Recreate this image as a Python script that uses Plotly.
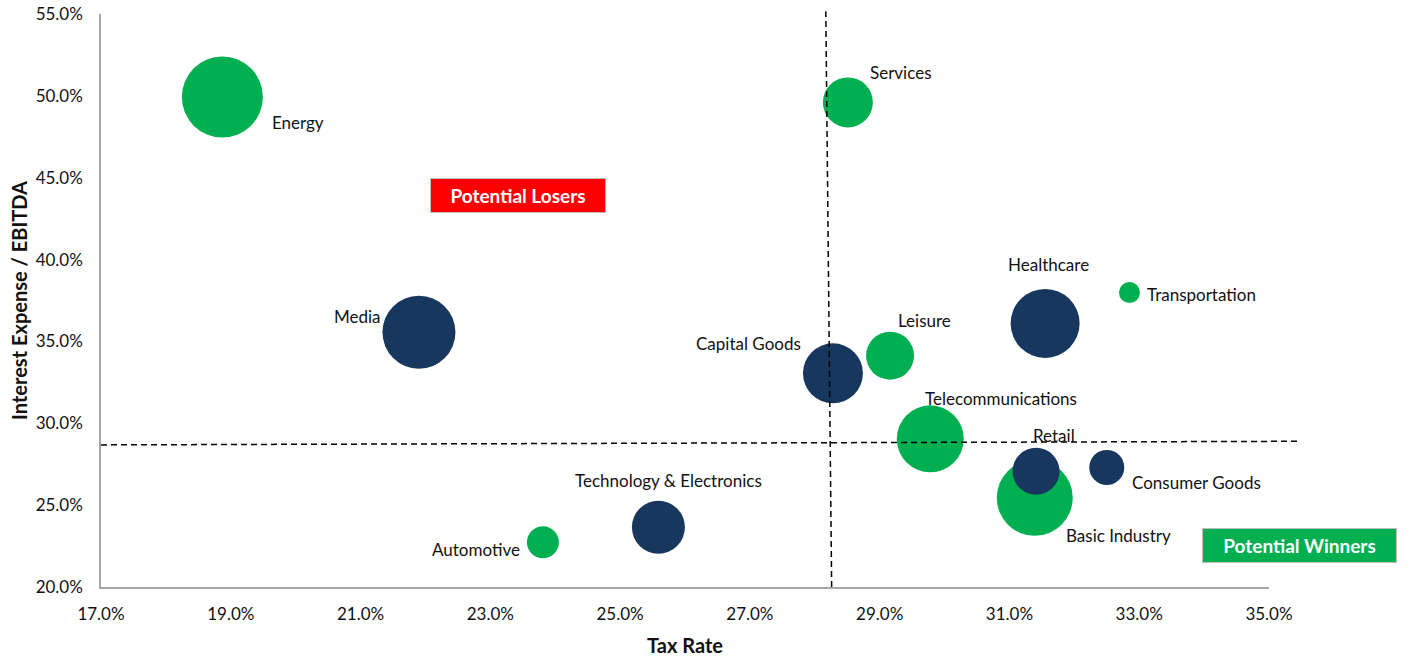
import plotly.graph_objects as go

# Sector data: tax rate (%), interest expense / EBITDA (%), bubble diameter
sectors = ["Energy", "Services", "Media", "Capital Goods", "Leisure", "Healthcare",
           "Transportation", "Telecommunications", "Retail", "Consumer Goods",
           "Basic Industry", "Technology & Electronics", "Automotive"]
tax_rate = [18.87, 28.51, 21.90, 28.28, 29.16, 31.55, 32.85, 29.78, 31.41, 32.50, 31.39, 25.59, 23.81]
interest_ebitda = [49.93, 49.60, 35.56, 33.05, 34.13, 36.10, 37.99, 29.05, 27.07, 27.30, 25.45, 23.65, 22.73]
bubble_size = [81, 50, 73, 60, 48, 69, 21, 67, 47, 35, 76, 53, 32]
group = ["green", "green", "navy", "navy", "green", "navy", "green", "green",
         "navy", "navy", "green", "navy", "green"]

# Reference lines (averages)
avg_tax = [28.26, 28.17]        # bottom, top
avg_interest = [28.68, 28.90]   # left, right

x_ticks = [17, 19, 21, 23, 25, 27, 29, 31, 33, 35]
y_ticks = [20, 25, 30, 35, 40, 45, 50, 55]
x_tick_text = [f"{v:.1f}%" for v in x_ticks]
y_tick_text = [f"{v:.1f}%" for v in y_ticks]

COLORS = {"green": "#00B050", "navy": "#17375E"}
FONT = "Lato"
TEXT_COLOR = "#111111"

# Label placement: (xanchor, xshift, yshift) in pixels from bubble centre
label_pos = {
    "Energy": ("left", 48, -25),
    "Services": ("left", 20, 30),
    "Media": ("right", -36, 16),
    "Capital Goods": ("right", -30, 30),
    "Leisure": ("left", 6, 35),
    "Healthcare": ("center", 3, 59),
    "Transportation": ("left", 16, -2),
    "Telecommunications": ("left", -7, 40),
    "Retail": ("center", 18, 36),
    "Consumer Goods": ("left", 23, -15),
    "Basic Industry": ("left", 29, -38),
    "Technology & Electronics": ("center", 10, 47),
    "Automotive": ("right", -21, -7),
}

fig = go.Figure()
for g in ["green", "navy"]:
    idx = [i for i, v in enumerate(group) if v == g]
    fig.add_trace(go.Scatter(
        x=[tax_rate[i] for i in idx],
        y=[interest_ebitda[i] for i in idx],
        mode="markers",
        marker=dict(size=[bubble_size[i] for i in idx], sizemode="diameter", sizeref=1,
                    color=COLORS[g], opacity=1, line=dict(width=0)),
        text=[sectors[i] for i in idx],
        hoverinfo="text",
        showlegend=False,
        cliponaxis=False,
    ))

annotations = []
for i, name in enumerate(sectors):
    anchor, dx, dy = label_pos[name]
    annotations.append(dict(
        x=tax_rate[i], y=interest_ebitda[i], xref="x", yref="y",
        text=name, showarrow=False, xanchor=anchor, yanchor="middle",
        xshift=dx, yshift=dy,
        font=dict(family=FONT, size=17, color=TEXT_COLOR),
    ))

# Quadrant labels
annotations.append(dict(
    x=0.357, y=0.684, xref="paper", yref="paper", text="<b>Potential Losers</b>",
    xanchor="center", yanchor="middle",
    showarrow=False, bgcolor="#FF0000", bordercolor="#BFBFBF", borderwidth=1,
    borderpad=0, width=174, height=33, align="center", valign="middle",
    font=dict(family=FONT, size=19, color="white"),
))
annotations.append(dict(
    x=1.0265, y=0.072, xref="paper", yref="paper", text="<b>Potential Winners</b>",
    xanchor="center", yanchor="middle",
    showarrow=False, bgcolor="#00B050", bordercolor="#BFBFBF", borderwidth=1,
    borderpad=0, width=193, height=33, align="center", valign="middle",
    font=dict(family=FONT, size=19, color="white"),
))

shapes = [
    dict(type="line", xref="x", yref="paper", x0=avg_tax[0], x1=avg_tax[1], y0=0, y1=1.005,
         line=dict(color="black", width=1.5, dash="6px,4px"), layer="above"),
    dict(type="line", xref="paper", yref="y", x0=0, x1=1.0248,
         y0=avg_interest[0], y1=avg_interest[1],
         line=dict(color="black", width=1.5, dash="6px,4px"), layer="above"),
]

axis_common = dict(
    showgrid=False, zeroline=False, showline=True, linecolor="#A6A6A6", linewidth=1.5,
    ticks="", tickfont=dict(family=FONT, size=17, color=TEXT_COLOR),
    automargin=False,
)

fig.update_layout(
    width=1411, height=657,
    margin=dict(l=101, r=142, t=14, b=70),
    paper_bgcolor="white", plot_bgcolor="white",
    xaxis=dict(range=[17, 35], tickvals=x_ticks, ticktext=x_tick_text, ticklabelstandoff=11,
               title=dict(text="<b>Tax Rate</b>", font=dict(family=FONT, size=20, color=TEXT_COLOR),
                          standoff=16),
               **axis_common),
    yaxis=dict(range=[20, 55], tickvals=y_ticks, ticklabelstandoff=13,
               title=dict(text="<b>Interest Expense / EBITDA</b>",
                          font=dict(family=FONT, size=20, color=TEXT_COLOR), standoff=3),
               **axis_common),
    annotations=annotations,
    shapes=shapes,
)
fig.update_yaxes(ticktext=y_tick_text)

fig.write_html("out.html")
